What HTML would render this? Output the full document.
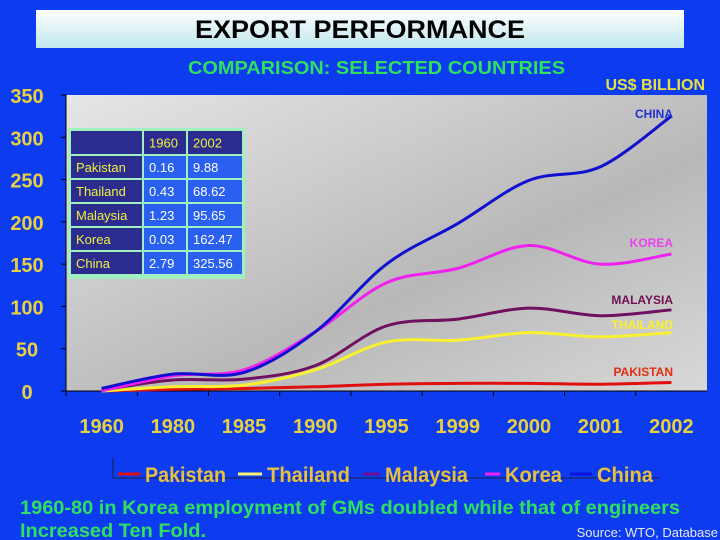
<!DOCTYPE html>
<html><head><meta charset="utf-8"><style>
html,body{margin:0;padding:0;background:#0d3cf0;width:720px;height:540px;overflow:hidden;font-family:"Liberation Sans",sans-serif}
</style></head><body>
<svg id="c" width="720" height="540" xmlns="http://www.w3.org/2000/svg">
<defs>
<linearGradient id="tg" x1="0" y1="0" x2="0" y2="1"><stop offset="0" stop-color="#ffffff"/><stop offset="1" stop-color="#bfe6ec"/></linearGradient>
<linearGradient id="pg" x1="0" y1="0" x2="1" y2="1"><stop offset="0" stop-color="#e6e6e6"/><stop offset="0.6" stop-color="#b8b8b8"/><stop offset="1" stop-color="#d8d8d8"/></linearGradient>
</defs>
<rect x="0" y="0" width="720" height="540" fill="#0d3cf0"/>
<rect x="36" y="10" width="648" height="38" fill="url(#tg)"/>
<text x="195" y="38" textLength="330" lengthAdjust="spacingAndGlyphs" font-size="25" font-weight="bold" fill="#000">EXPORT PERFORMANCE</text>
<text x="188" y="74" textLength="377" lengthAdjust="spacingAndGlyphs" font-size="18" font-weight="bold" fill="#2fe060">COMPARISON: SELECTED COUNTRIES</text>
<text x="705" y="90" text-anchor="end" font-size="16" font-weight="bold" fill="#e8e040">US$ BILLION</text>
<rect x="66" y="95" width="641" height="296" fill="url(#pg)"/>
<g id="axes"></g>
<g id="lines"></g>
<g id="table"></g>
<g id="legend"></g>
<text x="20" y="514" textLength="660" lengthAdjust="spacingAndGlyphs" font-size="19" font-weight="bold" fill="#2fe060">1960-80 in Korea employment of GMs doubled while that of engineers</text>
<text x="20" y="537" textLength="186" lengthAdjust="spacingAndGlyphs" font-size="19" font-weight="bold" fill="#2fe060">Increased Ten Fold.</text>
<text x="718" y="537" text-anchor="end" font-size="13" fill="#e8e8e8">Source: WTO, Database</text>
</svg>
<script>
const categories=["1960","1980","1985","1990","1995","1999","2000","2001","2002"];
const yTicks=[0,50,100,150,200,250,300,350];
const pakistan=[0,2,3,5,8,9,9,8,10];
const thailand=[0,5,7,25,58,60,69,64,69];
const malaysia=[1,13,14,30,77,85,98,89,96];
const korea=[0,18,25,70,128,145,172,150,162];
const china=[3,20,22,70,150,198,249,265,325];
const seriesNames=["Pakistan","Thailand","Malaysia","Korea","China"];
const tableRows=["Pakistan","Thailand","Malaysia","Korea","China"];
const table1960=["0.16","0.43","1.23","0.03","2.79"];
const table2002=["9.88","68.62","95.65","162.47","325.56"];

const NS="http://www.w3.org/2000/svg";
const L=66,R=707,T=95,B=391,YMAX=350;
const bw=(R-L)/categories.length;
const xs=i=>L+bw*(i+0.5);
const ys=v=>B-(v/YMAX)*(B-T);
function mk(tag,attrs,parent,txt){const e=document.createElementNS(NS,tag);for(const k in attrs)e.setAttribute(k,attrs[k]);if(txt!==undefined)e.textContent=txt;parent.appendChild(e);return e;}
const ax=document.getElementById('axes');
let e;
e=mk('line',{x1:L,y1:T,x2:L,y2:B,stroke:'#000','stroke-width':1},ax);


e=mk('line',{x1:L,y1:B,x2:R,y2:B,stroke:'#000','stroke-width':1},ax);


yTicks.forEach(v=>{
 mk('line',{x1:L-5,y1:ys(v),x2:L,y2:ys(v),stroke:'#000'},ax);
 e=mk('text',{x:27,y:ys(v)+8,'text-anchor':'middle','font-size':20,'font-weight':'bold',fill:'#e8d040'},ax,String(v));
 
 
});
categories.forEach((c,i)=>{
 mk('line',{x1:L+bw*i,y1:B,x2:L+bw*i,y2:B+5,stroke:'#000'},ax);
 e=mk('text',{x:xs(i),y:433,'text-anchor':'middle','font-size':20,'font-weight':'bold',fill:'#e8d040'},ax,c);
 
 
});
function smooth(pts){let d=`M${pts[0][0]},${pts[0][1]}`;for(let i=0;i<pts.length-1;i++){const p0=pts[Math.max(0,i-1)],p1=pts[i],p2=pts[i+1],p3=pts[Math.min(pts.length-1,i+2)];const c1=[p1[0]+(p2[0]-p0[0])/6,p1[1]+(p2[1]-p0[1])/6],c2=[p2[0]-(p3[0]-p1[0])/6,p2[1]-(p3[1]-p1[1])/6];d+=` C${c1[0]},${c1[1]} ${c2[0]},${c2[1]} ${p2[0]},${p2[1]}`;}return d;}
const series=[[pakistan,'#e01010','PAKISTAN','#e03010',372],[thailand,'#f8f030','THAILAND','#f8f030',325],[malaysia,'#701060','MALAYSIA','#701050',300],[korea,'#f020f0','KOREA','#f040f0',243],[china,'#1010d0','CHINA','#2030d0',114]];
const lg=document.getElementById('lines');
series.forEach(s=>{
 e=mk('path',{d:smooth(s[0].map((v,i)=>[xs(i),ys(v)])),fill:'none',stroke:s[1],'stroke-width':3},lg);
 
 
 e=mk('text',{x:673,y:s[4]+4,'text-anchor':'end','font-size':12,'font-weight':'bold',fill:s[3]},lg,s[2]);
 
 
});
const tb=document.getElementById('table');
const cx=[70,143,187,243],hy=130,hh=25,rh=24;
mk('rect',{x:68,y:128,width:177,height:151,fill:'#a0f0c0'},tb);
function cell(x,y,w,h,fill,t,name){mk('rect',{x:x+1,y:y+1,width:w-2,height:h-2,fill:fill},tb);if(t){e=mk('text',{x:x+6,y:y+h/2+5,'font-size':13,fill:name==='label'?'#f0f040':(fill==='#2c2c90'?'#f0f040':'#fff')},tb,t);}}
cell(cx[0],hy,cx[1]-cx[0],hh,'#2c2c90','','header');
cell(cx[1],hy,cx[2]-cx[1],hh,'#2c2c90','1960','header');
cell(cx[2],hy,cx[3]-cx[2],hh,'#2c2c90','2002','header');
tableRows.forEach((r,i)=>{const y=hy+hh+rh*i;
 cell(cx[0],y,cx[1]-cx[0],rh,'#2c2c90',r,'label');
 cell(cx[1],y,cx[2]-cx[1],rh,'#2a60f0',table1960[i],'value');
 cell(cx[2],y,cx[3]-cx[2],rh,'#2a60f0',table2002[i],'value');
});
const lgd=document.getElementById('legend');
mk('line',{x1:113,y1:478,x2:660,y2:478,stroke:'#202040'},lgd);
mk('line',{x1:113,y1:458,x2:113,y2:478,stroke:'#202040'},lgd);
const lx=[118,238,363,485,570],lw=[22,24,17,15,22],tw=[81,83,83,57,56],lc=['#e01010','#f8f070','#701090','#f020f0','#1010e0'];
seriesNames.forEach((n,i)=>{
 mk('line',{x1:lx[i],y1:474,x2:lx[i]+lw[i],y2:474,stroke:lc[i],'stroke-width':3},lgd);
 e=mk('text',{x:lx[i]+lw[i]+5,y:482,textLength:tw[i],lengthAdjust:'spacingAndGlyphs','font-size':21,'font-weight':'bold',fill:'#e8c040'},lgd,n);
 
 
});
</script>
</body></html>
